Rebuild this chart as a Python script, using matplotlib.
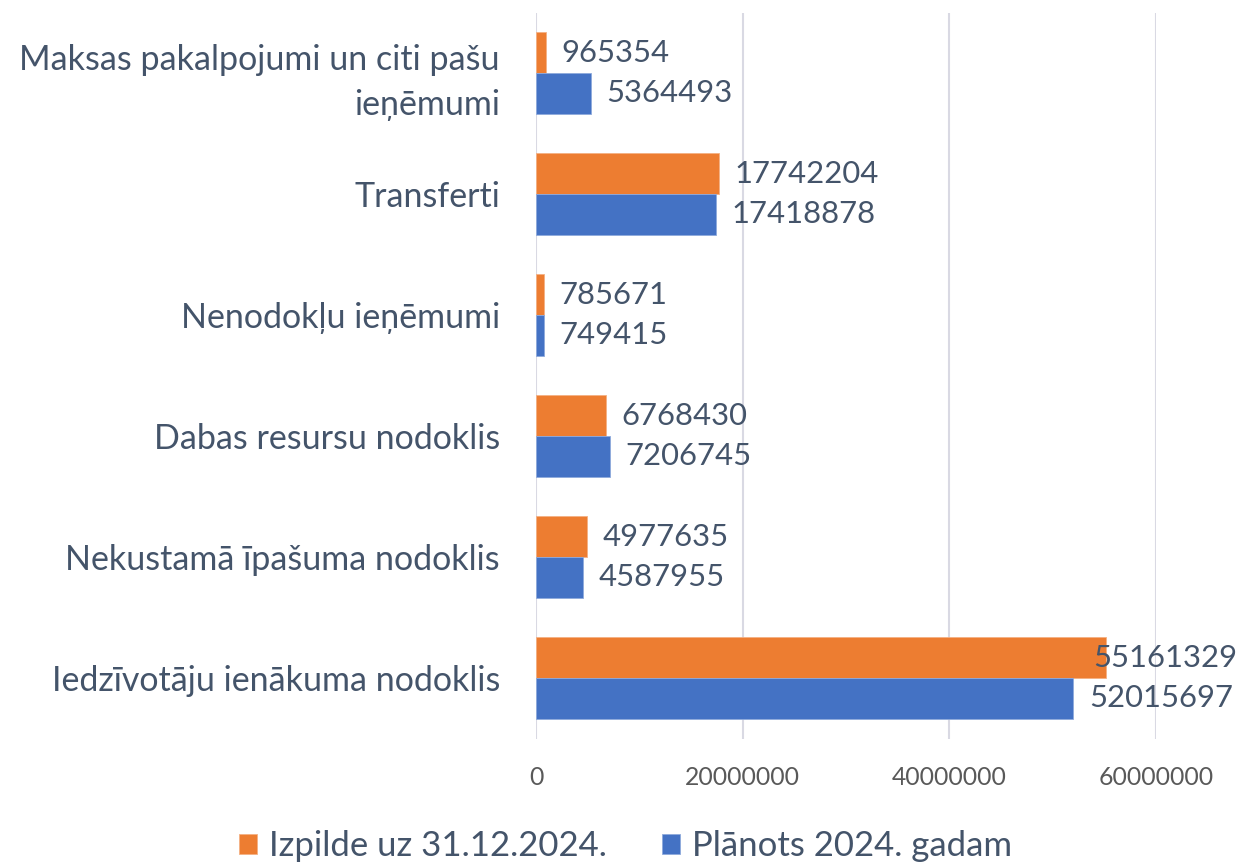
import numpy as np
import matplotlib.pyplot as plt

# dati (no apakšas uz augšu)
categories = ['Iedzīvotāju ienākuma nodoklis', 'Nekustamā īpašuma nodoklis',
              'Dabas resursu nodoklis', 'Nenodokļu ieņēmumi', 'Transferti',
              'Maksas pakalpojumi un citi pašu\nieņēmumi']
izpilde = [55161329, 4977635, 6768430, 785671, 17742204, 965354]
planots = [52015697, 4587955, 7206745, 749415, 17418878, 5364493]
xticks = [0, 20000000, 40000000, 60000000]

plt.rcParams['font.family'] = ['Lato', 'DejaVu Sans']

fig = plt.figure(figsize=(12.39, 8.64), dpi=100)
ax = fig.add_axes([536/1239, 1-738.5/864, (1156-536)/1239, (738.5-12.5)/864])

y = np.arange(len(categories))
h = 0.335
orange = '#ED7D31'
blue = '#4472C4'
ax.barh(y + h/2, izpilde, height=h, color=orange, edgecolor='#F4B183', linewidth=0.6, zorder=3, label='Izpilde uz 31.12.2024.')
ax.barh(y - h/2, planots, height=h, color=blue, edgecolor='#8FAADC', linewidth=0.6, zorder=3, label='Plānots 2024. gadam')

ax.set_xlim(0, 60000000)
ax.set_ylim(-0.5, len(categories) - 0.5)
ax.set_xticks(xticks)
ax.set_xticklabels([str(t) for t in xticks])
ax.set_yticks(y)
ax.set_yticklabels(categories, fontsize=24.5, color='#44546A', linespacing=1.5)
ax.tick_params(axis='x', labelsize=17.8, labelcolor='#595959', length=0, pad=20)
ax.tick_params(axis='y', length=0, pad=26)
for lbl in ax.get_yticklabels():
    lbl.set_horizontalalignment('right')
ax.grid(axis='x', color='#D9D9E3', linewidth=1.5, zorder=0)
for s in ax.spines.values():
    s.set_visible(False)

# vērtību etiķetes
texts = []
for yy, v in zip(y + h/2, izpilde):
    texts.append(ax.annotate(str(v), (v, yy), xytext=(11, 0), textcoords='offset points',
                             va='center', ha='left', fontsize=22.3, color='#44546A', zorder=4))
for yy, v in zip(y - h/2, planots):
    texts.append(ax.annotate(str(v), (v, yy), xytext=(11, 0), textcoords='offset points',
                             va='center', ha='left', fontsize=22.3, color='#44546A', zorder=4))

fig.canvas.draw()
r = fig.canvas.get_renderer()
W = fig.bbox.width
for t in texts:
    bb = t.get_window_extent(r)
    if bb.x1 > W - 2:
        dx = (bb.x1 - (W - 2)) / fig.dpi * 72
        ox, oy = t.get_position()
        t.set_position((ox - dx, oy))

leg = fig.legend(loc='center', bbox_to_anchor=(0.505, 1-846/864), ncol=2, frameon=False,
                 fontsize=25, labelcolor='#44546A', handlelength=0.5, handleheight=0.5,
                 handletextpad=0.35, columnspacing=1.6)

fig.savefig('out.png', dpi=100)
